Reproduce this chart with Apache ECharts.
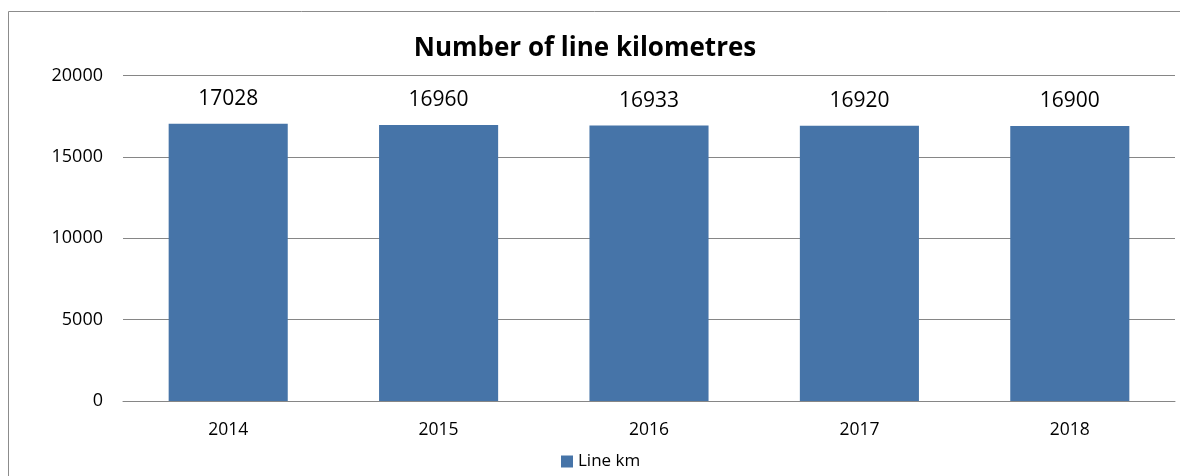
<!DOCTYPE html>
<html>
<head>
<meta charset="utf-8">
<script src="https://cdn.jsdelivr.net/npm/echarts@6/dist/echarts.min.js"></script>
<style>
  html, body { margin: 0; padding: 0; background: #fff; }
  #chart { width: 1180px; height: 476px; }
</style>
</head>
<body>
<div id="chart"></div>
<script>
const years = ['2014', '2015', '2016', '2017', '2018'];
const lineKm = [17028, 16960, 16933, 16920, 16900];
const yTicks = { min: 0, max: 20000, interval: 5000 };

const chart = echarts.init(document.getElementById('chart'));
const font = '"Open Sans", "Noto Sans", sans-serif';

chart.setOption({
  animation: false,
  textStyle: { fontFamily: font },
  graphic: [{
    type: 'rect',
    shape: { x: 8.5, y: 11.5, width: 1180, height: 480 },
    style: { fill: 'none', stroke: '#8c8c8c', lineWidth: 1 },
    silent: true
  }],
  title: {
    text: 'Number of line kilometres',
    left: 580,
    textAlign: 'center',
    top: 31,
    textStyle: { fontFamily: font, fontSize: 26, fontWeight: 'bold', color: '#000' }
  },
  legend: {
    data: ['Line km'],
    left: 556,
    top: 448,
    icon: 'rect',
    itemWidth: 12,
    itemHeight: 12,
    itemGap: 6,
    textStyle: { fontFamily: font, fontSize: 17, color: '#000' }
  },
  grid: { left: 123, right: 5, top: 75.5, bottom: 75, containLabel: false },
  xAxis: {
    type: 'category',
    data: years,
    axisLine: { show: true, lineStyle: { color: '#868686' } },
    axisTick: { show: false },
    axisLabel: { fontFamily: font, fontSize: 17.5, color: '#000', margin: 20 }
  },
  yAxis: {
    type: 'value',
    min: yTicks.min,
    max: yTicks.max,
    interval: yTicks.interval,
    axisLine: { show: false },
    axisTick: { show: false },
    splitLine: { lineStyle: { color: '#868686' } },
    axisLabel: {
      fontFamily: font, fontSize: 18, color: '#000', margin: 20,
      formatter: v => String(v)
    }
  },
  series: [{
    name: 'Line km',
    type: 'bar',
    data: lineKm,
    barWidth: '56.6%',
    itemStyle: { color: '#4674a8' },
    label: {
      show: true,
      position: 'top',
      distance: 14,
      fontFamily: font,
      fontSize: 21,
      color: '#000'
    }
  }]
});
</script>
</body>
</html>
